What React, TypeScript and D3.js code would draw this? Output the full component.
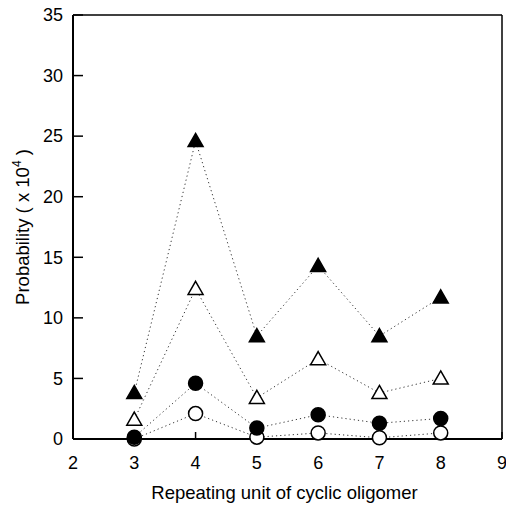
import React from "react";
import * as d3 from "d3";

const xValues = [3, 4, 5, 6, 7, 8];
const filledTriangle = [3.8, 24.6, 8.5, 14.3, 8.5, 11.7];
const openTriangle = [1.6, 12.4, 3.4, 6.6, 3.8, 5.0];
const filledCircle = [0.15, 4.6, 0.9, 2.0, 1.3, 1.7];
const openCircle = [0.0, 2.1, 0.15, 0.5, 0.1, 0.5];
const xTicks = [2, 3, 4, 5, 6, 7, 8, 9];
const yTicks = [0, 5, 10, 15, 20, 25, 30, 35];

const W = 506;
const H = 505;
const L = 73, R = 502, T = 15, B = 439;

export default function App() {
  const x = d3.scaleLinear().domain([2, 9]).range([L, R]);
  const y = d3.scaleLinear().domain([0, 35]).range([B, T]);
  const line = d3.line<number>().x((_, i) => x(xValues[i])).y((d) => y(d));
  const font = "'Liberation Sans', Arial, sans-serif";
  const series = [
    { data: openCircle, kind: "circle", fill: "white" },
    { data: filledCircle, kind: "circle", fill: "black" },
    { data: openTriangle, kind: "tri", fill: "white" },
    { data: filledTriangle, kind: "tri", fill: "black" },
  ];
  const tri = (cx: number, cy: number) => {
    const s = 7.5;
    return `M${cx},${cy - s} L${cx + s},${cy + s * 0.75} L${cx - s},${cy + s * 0.75} Z`;
  };
  return (
    <svg width={W} height={H} style={{ position: "absolute", left: 0, top: 0, background: "white" }}>
      {series.map((s, k) => (
        <path key={"l" + k} d={line(s.data) || ""} fill="none" stroke="#333" strokeWidth={1} strokeDasharray="1.2,3" />
      ))}
      <line x1={L} x2={R} y1={T} y2={T} stroke="black" strokeWidth={1.5} />
      <line x1={R} x2={R} y1={T} y2={B} stroke="black" strokeWidth={1.5} />
      <line x1={L} x2={L} y1={T} y2={B} stroke="black" strokeWidth={2} />
      <line x1={L} x2={R} y1={B} y2={B} stroke="black" strokeWidth={2} />
      {yTicks.map((t) => (
        <g key={"y" + t}>
          <line x1={L} x2={L + 10} y1={y(t)} y2={y(t)} stroke="black" strokeWidth={1.5} />
          <text x={L - 10} y={y(t)} dy="0.35em" textAnchor="end" fontFamily={font} fontSize={18}>{t}</text>
        </g>
      ))}
      {xTicks.map((t) => (
        <g key={"x" + t}>
          <line x1={x(t)} x2={x(t)} y1={B} y2={B - 7} stroke="black" strokeWidth={1.5} />
          <text x={x(t)} y={B + 30} textAnchor="middle" fontFamily={font} fontSize={18}>{t}</text>
        </g>
      ))}
      {series.map((s, k) => (
        <g key={"m" + k}>
          {s.data.map((v, i) =>
            s.kind === "circle" ? (
              <circle key={i} cx={x(xValues[i])} cy={y(v)} r={7} fill={s.fill} stroke="black" strokeWidth={1.5} />
            ) : (
              <path key={i} d={tri(x(xValues[i]), y(v))} fill={s.fill} stroke="black" strokeWidth={1.5} />
            )
          )}
        </g>
      ))}
      <text x={(L + R) / 2 - 3} y={499} textAnchor="middle" fontFamily={font} fontSize={18.5}>Repeating unit of cyclic oligomer</text>
      <text transform={`translate(29,${(T + B) / 2}) rotate(-90)`} textAnchor="middle" fontFamily={font} fontSize={18.5}>
        Probability ( x 10<tspan dy="-8" fontSize={12}>4</tspan><tspan dy="8"> )</tspan>
      </text>
    </svg>
  );
}
